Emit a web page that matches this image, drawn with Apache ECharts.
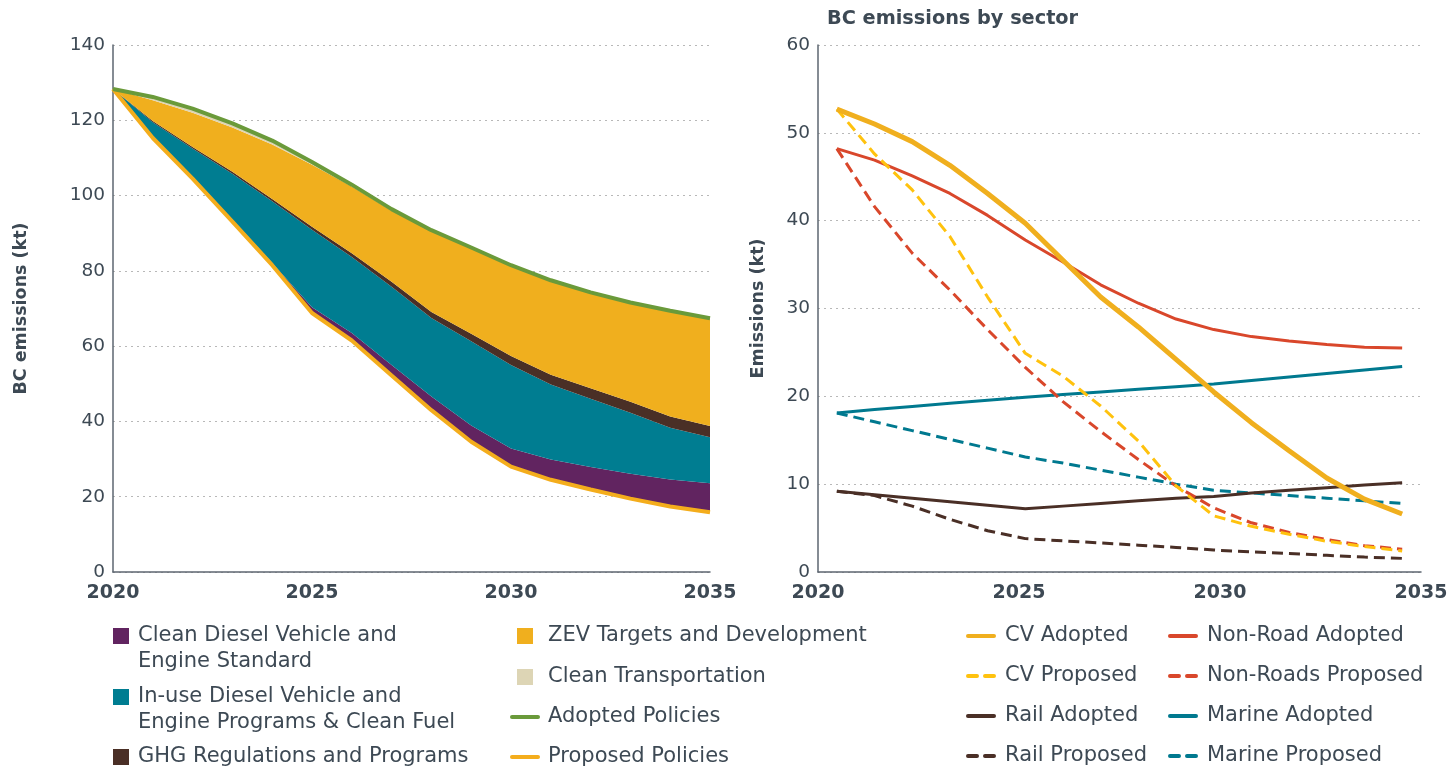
<!DOCTYPE html>
<html>
<head>
<meta charset="utf-8">
<script src="https://cdn.jsdelivr.net/npm/echarts@6/dist/echarts.min.js"></script>
<style>
html,body{margin:0;padding:0;background:#fff;}
#main{width:1452px;height:769px;}
</style>
</head>
<body>
<div id="main"></div>
<script>
// left panel: BC emissions by policy (stacked wedges on top of proposed policies)
var years = ['2020','2021','2022','2023','2024','2025','2026','2027','2028','2029','2030','2031','2032','2033','2034','2035'];
var proposedPolicies = [128.3, 115.3, 104.5, 93.1, 81.5, 68.8, 61.5, 52.2, 43.0, 34.6, 28.0, 24.5, 21.9, 19.5, 17.4, 15.9];
var cleanDiesel = [0, 0.3, 0.4, 0.5, 0.6, 1.5, 2.0, 2.8, 3.6, 4.3, 4.8, 5.4, 6.0, 6.6, 7.2, 7.7];
var inUseDiesel = [0, 3.9, 7.6, 12.2, 16.4, 20.6, 20.2, 20.8, 20.9, 22.4, 22.2, 19.9, 18.1, 16.2, 13.7, 12.2];
var ghgPrograms = [0, 0.3, 0.4, 0.5, 0.6, 0.8, 1.0, 1.3, 1.6, 2.0, 2.4, 2.6, 2.8, 2.9, 3.0, 3.0];
var zevTargets = [0, 5.5, 9.1, 11.8, 14.5, 16.5, 17.7, 18.9, 21.4, 22.7, 23.9, 25.0, 25.4, 26.3, 28.0, 28.5];
var cleanTransport = [0, 0.9, 1.1, 1.1, 1.0, 0.7, 0.5, 0.4, 0.3, 0.2, 0.2, 0.1, 0.1, 0.1, 0.1, 0.1];
var adoptedPolicies = [128.3, 126.2, 123.1, 119.2, 114.6, 108.9, 102.9, 96.4, 90.8, 86.2, 81.5, 77.5, 74.3, 71.6, 69.4, 67.4];

// right panel: BC emissions by sector
var cvAdopted = [52.7, 51.0, 49.0, 46.3, 43.1, 39.7, 35.5, 31.3, 27.9, 24.2, 20.5, 17.0, 13.8, 10.7, 8.3, 6.6];
var cvProposed = [52.7, 47.6, 43.5, 38.2, 31.3, 24.9, 22.3, 18.9, 14.9, 9.8, 6.4, 5.2, 4.3, 3.5, 2.9, 2.4];
var nonRoadAdopted = [48.2, 46.9, 45.1, 43.1, 40.6, 37.8, 35.3, 32.7, 30.6, 28.8, 27.6, 26.8, 26.3, 25.9, 25.6, 25.5];
var nonRoadProposed = [48.2, 41.6, 36.3, 32.1, 27.6, 23.3, 19.4, 16.0, 12.8, 9.8, 7.3, 5.6, 4.5, 3.7, 3.0, 2.6];
var railAdopted = [9.2, 8.8, 8.4, 8.0, 7.6, 7.2, 7.5, 7.8, 8.1, 8.4, 8.6, 9.0, 9.3, 9.6, 9.9, 10.15];
var railProposed = [9.2, 8.7, 7.5, 6.0, 4.7, 3.8, 3.55, 3.3, 3.05, 2.8, 2.5, 2.3, 2.1, 1.9, 1.7, 1.55];
var marineAdopted = [18.1, 18.5, 18.85, 19.2, 19.55, 19.9, 20.2, 20.5, 20.8, 21.1, 21.4, 21.8, 22.2, 22.6, 23.0, 23.4];
var marineProposed = [18.1, 17.1, 16.1, 15.1, 14.1, 13.1, 12.4, 11.6, 10.8, 10.0, 9.3, 9.0, 8.7, 8.4, 8.1, 7.8];

var FONT = 'DejaVu Sans';
var TXT = '#3d4954';
var AXIS = '#5d6670';
// legend line icons (solid / two dashes)
var SOLID_ICON = 'path://M2,0H28A2,2 0 0 1 28,4H2A2,2 0 0 1 2,0Z';
var DASH_ICON = 'path://M2,0H11A2,2 0 0 1 11,4H2A2,2 0 0 1 2,0ZM19,0H28A2,2 0 0 1 28,4H19A2,2 0 0 1 19,0Z';

var chart = echarts.init(document.getElementById('main'));

function areaSeries(name, data, color) {
    return {
        name: name, type: 'line', stack: 'policy', data: data,
        symbol: 'none', lineStyle: {width: 0}, itemStyle: {color: color},
        areaStyle: {color: color, opacity: 1}, z: 2
    };
}
function sectorLine(name, data, color, dashed, width) {
    return {
        name: name, type: 'line', data: data, xAxisIndex: 1, yAxisIndex: 1,
        symbol: 'none', itemStyle: {color: color},
        lineStyle: {color: color, width: width || 3, type: dashed ? [11, 6] : 'solid'}
    };
}
// one legend box per entry so every entry sits where it does in the original
// kind: 'square', 'solid' or 'dash'
function legendItem(name, left, cy, kind, twoLine, padLeft) {
    var lh = 26;
    var boxH = twoLine ? lh * 3 : lh;
    var square = kind === 'square';
    var lg = {
        left: left, top: cy - boxH / 2, padding: 0,
        selectedMode: false,
        itemWidth: square ? 16 : 30, itemHeight: square ? 16 : 4,
        data: [{name: name, icon: square ? 'rect' : (kind === 'dash' ? DASH_ICON : SOLID_ICON)}],
        textStyle: {
            fontFamily: FONT, fontSize: 21, color: TXT, lineHeight: lh,
            padding: [0, 0, 0, padLeft]
        }
    };
    // blank first line keeps the icon level with the first text line
    if (twoLine) lg.formatter = function (n) { return '\n' + n; };
    return lg;
}

var yAxisBase = {
    type: 'value', min: 0,
    axisLine: {show: true, lineStyle: {color: AXIS, width: 1.5}},
    axisTick: {show: false},
    axisLabel: {color: TXT, fontFamily: FONT, fontSize: 18.5, margin: 8},
    splitLine: {lineStyle: {color: '#b8b8b8', type: [2, 4], width: 1.2}},
    nameLocation: 'middle', nameRotate: 90,
    nameTextStyle: {color: TXT, fontFamily: FONT, fontSize: 17.5, fontWeight: 'bold'}
};
var xLabel = {color: TXT, fontFamily: FONT, fontSize: 19, fontWeight: 'bold', margin: 12};

var option = {
    backgroundColor: '#fff',
    animation: false,
    title: {
        text: 'BC emissions by sector', left: 827, top: 9, padding: 0,
        textStyle: {fontFamily: FONT, fontSize: 19.3, fontWeight: 'bold', color: TXT}
    },
    grid: [
        {left: 113, top: 45, width: 597, height: 527},
        {left: 818, top: 45, width: 603, height: 527}
    ],
    xAxis: [
        {
            type: 'category', data: years, boundaryGap: false, gridIndex: 0,
            axisLine: {lineStyle: {color: AXIS, width: 1.5}},
            axisTick: {show: false},
            axisLabel: Object.assign({interval: 4}, xLabel)
        },
        {type: 'category', data: years, boundaryGap: true, gridIndex: 1, position: 'top', show: false},
        {
            type: 'value', gridIndex: 1, min: 2020, max: 2035, interval: 5,
            axisLine: {show: true, lineStyle: {color: AXIS, width: 1.5}},
            axisTick: {show: false}, splitLine: {show: false},
            axisLabel: Object.assign({formatter: function (v) { return String(v); }}, xLabel)
        }
    ],
    yAxis: [
        Object.assign({}, yAxisBase, {gridIndex: 0, max: 140, interval: 20, name: 'BC emissions (kt)', nameGap: 83}),
        Object.assign({}, yAxisBase, {gridIndex: 1, max: 60, interval: 10, name: 'Emissions (kt)', nameGap: 51})
    ],
    legend: [
        legendItem('Clean Diesel Vehicle and\nEngine Standard', 113, 636, 'square', true, 4),
        legendItem('In-use Diesel Vehicle and\nEngine Programs & Clean Fuel', 113, 697, 'square', true, 4),
        legendItem('GHG Regulations and Programs', 113, 757, 'square', false, 4),
        legendItem('ZEV Targets and Development', 517, 636, 'square', false, 10),
        legendItem('Clean Transportation', 517, 677, 'square', false, 10),
        legendItem('Adopted Policies', 510, 717, 'solid', false, 3),
        legendItem('Proposed Policies', 510, 757, 'solid', false, 3),
        legendItem('CV Adopted', 966, 636, 'solid', false, 4),
        legendItem('CV Proposed', 966, 676, 'dash', false, 4),
        legendItem('Rail Adopted', 966, 716, 'solid', false, 4),
        legendItem('Rail Proposed', 966, 756, 'dash', false, 4),
        legendItem('Non-Road Adopted', 1168, 636, 'solid', false, 4),
        legendItem('Non-Roads Proposed', 1168, 676, 'dash', false, 4),
        legendItem('Marine Adopted', 1168, 716, 'solid', false, 4),
        legendItem('Marine Proposed', 1168, 756, 'dash', false, 4)
    ],
    series: [
        {
            name: 'Proposed Policies', type: 'line', stack: 'policy', data: proposedPolicies,
            symbol: 'none', itemStyle: {color: '#f4ad1c'},
            lineStyle: {color: '#f4ad1c', width: 4}, z: 4
        },
        areaSeries('Clean Diesel Vehicle and\nEngine Standard', cleanDiesel, '#612460'),
        areaSeries('In-use Diesel Vehicle and\nEngine Programs & Clean Fuel', inUseDiesel, '#007d91'),
        areaSeries('GHG Regulations and Programs', ghgPrograms, '#4a2f26'),
        areaSeries('ZEV Targets and Development', zevTargets, '#f0af1e'),
        areaSeries('Clean Transportation', cleanTransport, '#ddd5b5'),
        {
            name: 'Adopted Policies', type: 'line', data: adoptedPolicies,
            symbol: 'none', itemStyle: {color: '#6a9a3a'},
            lineStyle: {color: '#6a9a3a', width: 4}, z: 4
        },
        sectorLine('Marine Proposed', marineProposed, '#00798f', true),
        sectorLine('Marine Adopted', marineAdopted, '#00798f', false),
        sectorLine('Rail Proposed', railProposed, '#4a2f26', true),
        sectorLine('Rail Adopted', railAdopted, '#4a2f26', false),
        sectorLine('Non-Roads Proposed', nonRoadProposed, '#d9472b', true),
        sectorLine('Non-Road Adopted', nonRoadAdopted, '#d9472b', false),
        sectorLine('CV Proposed', cvProposed, '#ffc20e', true),
        sectorLine('CV Adopted', cvAdopted, '#f0af1e', false, 5)
    ]
};
chart.setOption(option);
</script>
</body>
</html>
